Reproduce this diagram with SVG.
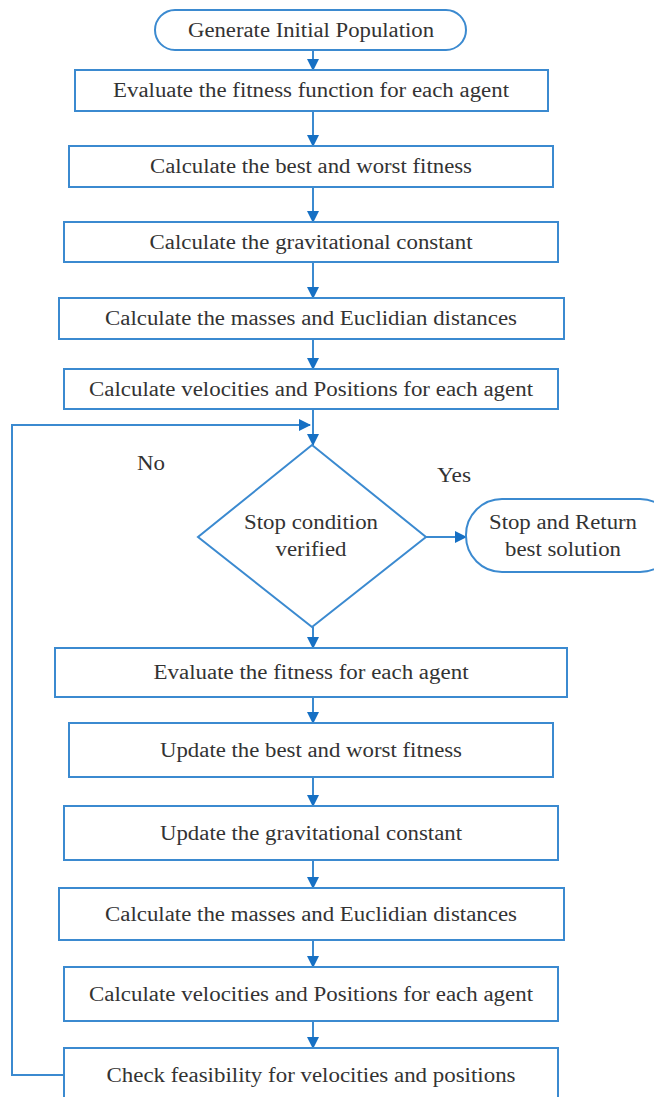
<svg xmlns="http://www.w3.org/2000/svg" width="654" height="1097" viewBox="0 0 654 1097" font-family="Liberation Serif, Times New Roman, serif">
<style>
.n{fill:#fff;stroke:#3b8ad0;stroke-width:2}
.t{font-size:20px;fill:#333;text-anchor:middle}
.c{fill:none;stroke:#3b8ad0;stroke-width:2}
</style>
<defs>
<marker id="a" markerWidth="12" markerHeight="12" refX="11" refY="6" orient="auto" markerUnits="userSpaceOnUse">
<path d="M0,0 L12,6 L0,12 Z" fill="#1670c4"/>
</marker>
</defs>
<rect width="654" height="1097" fill="#fff"/>
<g id="connectors">
<line class="c" x1="313" y1="50" x2="313" y2="70" marker-end="url(#a)"/>
<line class="c" x1="313" y1="111" x2="313" y2="146" marker-end="url(#a)"/>
<line class="c" x1="313" y1="187" x2="313" y2="222" marker-end="url(#a)"/>
<line class="c" x1="313" y1="262" x2="313" y2="298" marker-end="url(#a)"/>
<line class="c" x1="313" y1="339" x2="313" y2="369" marker-end="url(#a)"/>
<line class="c" x1="313" y1="409" x2="313" y2="445" marker-end="url(#a)"/>
<polyline class="c" points="66,1075 12,1075 12,425 310,425" marker-end="url(#a)"/>
<line class="c" x1="426" y1="537" x2="466" y2="537" marker-end="url(#a)"/>
<line class="c" x1="313" y1="627" x2="313" y2="648" marker-end="url(#a)"/>
<line class="c" x1="313" y1="697" x2="313" y2="723" marker-end="url(#a)"/>
<line class="c" x1="313" y1="777" x2="313" y2="806" marker-end="url(#a)"/>
<line class="c" x1="313" y1="860" x2="313" y2="888" marker-end="url(#a)"/>
<line class="c" x1="313" y1="940" x2="313" y2="967" marker-end="url(#a)"/>
<line class="c" x1="313" y1="1021" x2="313" y2="1048" marker-end="url(#a)"/>
<text class="t" x="151" y="470" textLength="28" lengthAdjust="spacingAndGlyphs">No</text>
<text class="t" x="454" y="482" textLength="34" lengthAdjust="spacingAndGlyphs">Yes</text>
</g>
<g id="start"><rect class="n" x="155" y="10" width="311" height="40" rx="20"/><text class="t" x="311" y="37" textLength="246" lengthAdjust="spacingAndGlyphs">Generate Initial Population</text></g>
<g id="b1"><rect class="n" x="75" y="70" width="473" height="41"/><text class="t" x="311" y="97" textLength="396" lengthAdjust="spacingAndGlyphs">Evaluate the fitness function for each agent</text></g>
<g id="b2"><rect class="n" x="69" y="146" width="484" height="41"/><text class="t" x="311" y="173" textLength="322" lengthAdjust="spacingAndGlyphs">Calculate the best and worst fitness</text></g>
<g id="b3"><rect class="n" x="64" y="222" width="494" height="40"/><text class="t" x="311" y="249" textLength="323" lengthAdjust="spacingAndGlyphs">Calculate the gravitational constant</text></g>
<g id="b4"><rect class="n" x="59" y="298" width="505" height="41"/><text class="t" x="311" y="325" textLength="412" lengthAdjust="spacingAndGlyphs">Calculate the masses and Euclidian distances</text></g>
<g id="b5"><rect class="n" x="64" y="369" width="494" height="40"/><text class="t" x="311" y="396" textLength="444" lengthAdjust="spacingAndGlyphs">Calculate velocities and Positions for each agent</text></g>
<g id="decision"><polygon class="n" points="312,445 426,537 312,627 198,537"/><text class="t" x="311" y="529" textLength="134" lengthAdjust="spacingAndGlyphs">Stop condition</text><text class="t" x="311" y="556" textLength="71" lengthAdjust="spacingAndGlyphs">verified</text></g>
<g id="stop"><rect class="n" x="466" y="499" width="210" height="73" rx="36"/><text class="t" x="563" y="529" textLength="148" lengthAdjust="spacingAndGlyphs">Stop and Return</text><text class="t" x="563" y="556" textLength="116" lengthAdjust="spacingAndGlyphs">best solution</text></g>
<g id="b6"><rect class="n" x="55" y="648" width="512" height="49"/><text class="t" x="311" y="679" textLength="315" lengthAdjust="spacingAndGlyphs">Evaluate the fitness for each agent</text></g>
<g id="b7"><rect class="n" x="69" y="723" width="484" height="54"/><text class="t" x="311" y="757" textLength="302" lengthAdjust="spacingAndGlyphs">Update the best and worst fitness</text></g>
<g id="b8"><rect class="n" x="64" y="806" width="494" height="54"/><text class="t" x="311" y="840" textLength="302" lengthAdjust="spacingAndGlyphs">Update the gravitational constant</text></g>
<g id="b9"><rect class="n" x="59" y="888" width="505" height="52"/><text class="t" x="311" y="921" textLength="412" lengthAdjust="spacingAndGlyphs">Calculate the masses and Euclidian distances</text></g>
<g id="b10"><rect class="n" x="64" y="967" width="494" height="54"/><text class="t" x="311" y="1001" textLength="444" lengthAdjust="spacingAndGlyphs">Calculate velocities and Positions for each agent</text></g>
<g id="b11"><rect class="n" x="64" y="1048" width="494" height="60"/><text class="t" x="311" y="1082" textLength="409" lengthAdjust="spacingAndGlyphs">Check feasibility for velocities and positions</text></g>
</svg>
